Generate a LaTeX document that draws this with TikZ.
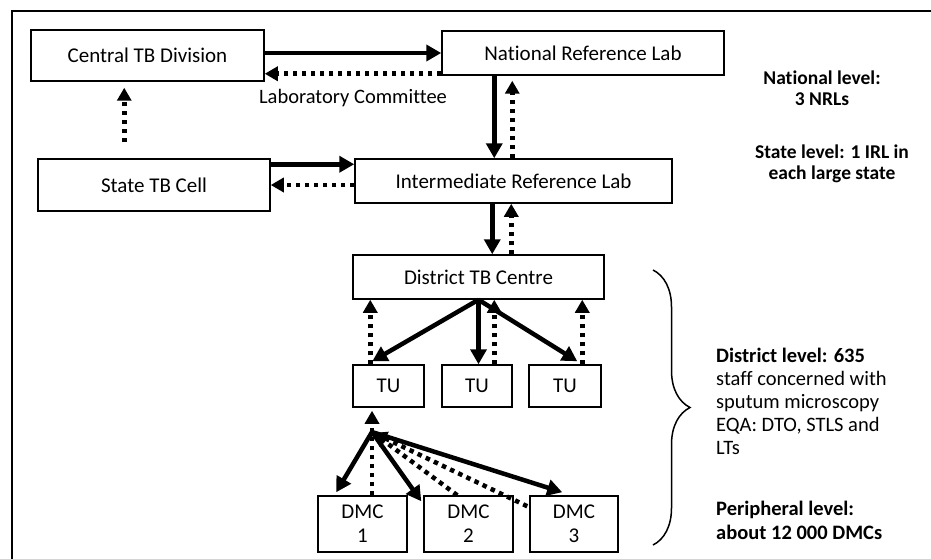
\documentclass[tikz,border=0pt]{standalone}
\usepackage{fontspec}
\setmainfont{Carlito}[Ligatures={TeX,NoCommon}]
\usetikzlibrary{arrows.meta,calc,decorations.pathreplacing}
\begin{document}
\begin{tikzpicture}[x=1pt,y=-1pt,
  box/.style={draw, line width=1.5pt, inner sep=0pt, align=center, font=\fontsize{21}{24}\selectfont},
  solidarr/.style={line width=4.5pt, -{Triangle[length=15pt,width=16pt]}},
  dotarr/.style={line width=4.5pt, dash pattern=on 4.5pt off 4.5pt, -{Triangle[length=13pt,width=14pt]}},
  lvl/.style={font=\bfseries\fontsize{19.5}{21}\selectfont, align=center, inner sep=0pt},
  side/.style={font=\fontsize{20.5}{23}\selectfont, align=left, inner sep=0pt, anchor=west},
  ]
\useasboundingbox (0,0) rectangle (931,559);
% frame
\draw[line width=2pt] (12,559) -- (12,11) -- (931,11);

% boxes
\node[box, minimum width=233pt, minimum height=51pt] (ctd) at (147.5,55.5) {Central TB Division};
\node[box, minimum width=282pt, minimum height=44pt] (nrl) at (583,53) {National Reference Lab};
\node[box, minimum width=232pt, minimum height=52pt] (stc) at (154,185) {State TB Cell};
\node[box, minimum width=317pt, minimum height=44pt] (irl) at (513.5,181) {Intermediate Reference Lab};
\node[box, minimum width=251pt, minimum height=44pt] (dtc) at (478.5,277) {District TB Centre};
\node[box, minimum width=71pt, minimum height=42pt] (tu1) at (388.5,386) {TU};
\node[box, minimum width=70pt, minimum height=42pt] (tu2) at (477,386) {TU};
\node[box, minimum width=72pt, minimum height=42pt] (tu3) at (565,386) {TU};
\node[box, minimum width=89pt, minimum height=56pt] (dmc1) at (362.5,524) {DMC\\1};
\node[box, minimum width=89pt, minimum height=56pt] (dmc2) at (468.5,524) {DMC\\2};
\node[box, minimum width=88pt, minimum height=56pt] (dmc3) at (574,524) {DMC\\3};

% texts
\node[font=\fontsize{20.5}{23}\selectfont, inner sep=0pt] (lab) at (353,98) {Laboratory Committee};
\node[lvl] (natl) at (822,88) {National level:\\3 NRLs};
\node[lvl] (state) at (832,164) {State level: 1 IRL in\\each large state};
\node[side] (dist) at (716,401) {{\bfseries District level: 635}\\staff concerned with\\sputum microscopy\\EQA: DTO, STLS and\\LTs};
\node[side, font=\bfseries\fontsize{20.5}{24}\selectfont] (peri) at (716,520) {Peripheral level:\\about 12 000 DMCs};

% brace
\coordinate (br1) at (653,270);
\coordinate (br2) at (653,545);
\draw[line width=1.5pt, decorate, decoration={brace, amplitude=37pt}] (br1) -- (br2);

% national <-> central
\draw[solidarr] (ctd.east |- nrl.west) -- (nrl.west);
\coordinate (q1) at ($(nrl.south west)+(0,-2)$);
\draw[dotarr] (q1) -- (q1 -| ctd.east);

% state cell -> central
\coordinate (s1) at ($(stc.north west)+(87,-16)$);
\coordinate (s2) at ($(ctd.south west)+(94,6)$);
\draw[dotarr] (s1) -- (s2);

% NRL <-> IRL
\coordinate (v1) at ($(nrl.south west)+(53,0)$);
\draw[solidarr] (v1) -- (v1 |- irl.north);
\coordinate (v2) at ($(irl.north west)+(158,0)$);
\coordinate (v2t) at ($(nrl.south west)+(71,5)$);
\draw[dotarr] (v2) -- (v2t);

% state cell <-> IRL
\coordinate (h1) at ($(stc.north east)+(0,6)$);
\draw[solidarr] (h1) -- (h1 -| irl.west);
\draw[dotarr] (irl.west |- stc.east) -- (stc.east);

% IRL <-> DTC
\coordinate (v3) at ($(irl.south west)+(138,0)$);
\draw[solidarr] (v3) -- (v3 |- dtc.north);
\coordinate (v4) at ($(dtc.north west)+(159,0)$);
\draw[dotarr] (v4) -- (v4 |- irl.south);

% DTC -> TUs
\draw[solidarr] (dtc.south) -- ($(tu1.north west)+(20,-3)$);
\draw[solidarr] (dtc.south) -- (dtc.south |- tu2.north);
\draw[solidarr] (dtc.south) -- ($(tu3.north west)+(49,-3)$);
\coordinate (u1) at ($(tu1.north west)+(18,0)$);
\coordinate (u2) at ($(tu2.north west)+(53,0)$);
\coordinate (u3) at ($(tu3.north west)+(54,0)$);
\draw[dotarr] (u1) -- (u1 |- dtc.south);
\draw[dotarr] (u2) -- (u2 |- dtc.south);
\draw[dotarr] (u3) -- (u3 |- dtc.south);

% TU -> DMCs
\coordinate (apex) at (372,432);
\draw[solidarr] (apex) -- ($(dmc1.north west)+(19,-3)$);
\draw[solidarr] (apex) -- ($(dmc2.north west)+(-2,6)$);
\draw[solidarr] (apex) -- ($(dmc3.north west)+(33,-3)$);
\coordinate (t1b) at (apex |- tu1.south);
\coordinate (d1t) at (apex |- dmc1.north);
\draw[dotarr] (d1t) -- ($(t1b)+(0,3)$);
\draw[dotarr, shorten >=2pt] ($(dmc2.north west)+(34,0)$) -- (apex);
\draw[dotarr, shorten >=2pt] ($(dmc3.north west)+(-2,11)$) -- (apex);
\end{tikzpicture}
\end{document}
